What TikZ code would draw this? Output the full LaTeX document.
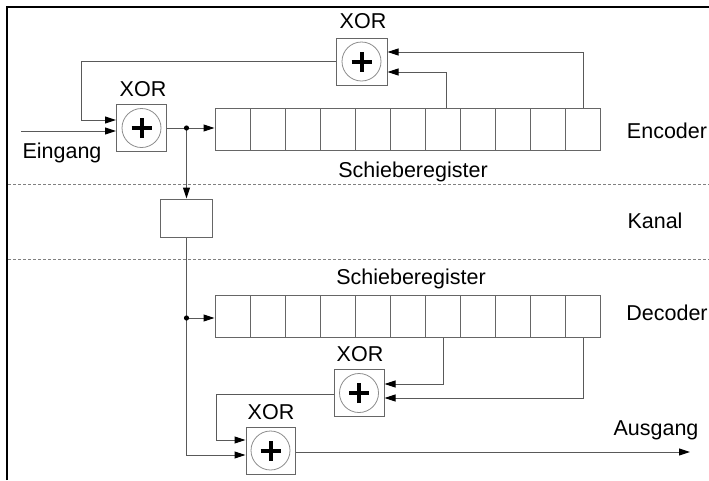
\documentclass[tikz,border=0pt]{standalone}
\usepackage{fontspec}
\setmainfont{Liberation Sans}
\usetikzlibrary{arrows.meta}
\definecolor{linegray}{gray}{0.35}
\definecolor{boxgray}{gray}{0.4}
\definecolor{circgray}{gray}{0.55}
\definecolor{dashgray}{gray}{0.5}
\begin{document}
\begin{tikzpicture}[x=1pt,y=-1pt,
  lbl/.style={font=\fontsize{21.5}{25}\selectfont, anchor=base, inner sep=0pt},
  wire/.style={draw=linegray, line width=1pt},
  arr/.style={wire, -{Triangle[length=11pt,width=7pt,color=black]}},
  cell/.style={draw=boxgray, line width=1pt, minimum width=35.09pt, minimum height=42pt, inner sep=0pt},
  chanbox/.style={draw=boxgray, line width=1pt, minimum width=52pt, minimum height=38pt, inner sep=0pt},
  xorbox/.style={draw=boxgray, line width=1pt, minimum width=50pt, minimum height=47pt, inner sep=0pt,
    path picture={
      \draw[circgray,line width=0.8pt] (path picture bounding box.center) circle (19.5pt);
      \draw[black,line width=4pt] ([xshift=-10pt]path picture bounding box.center) -- ([xshift=10pt]path picture bounding box.center);
      \draw[black,line width=4pt] ([yshift=-10pt]path picture bounding box.center) -- ([yshift=10pt]path picture bounding box.center);
    }},
  sep/.style={draw=dashgray, line width=0.8pt, dash pattern=on 3pt off 2pt},
  frame/.style={draw=black, line width=2pt},
  dot/.style={fill=black}
]
\useasboundingbox (0,0) rectangle (709,480);
% frame
\draw[frame] (7,480) -- (7,7) -- (709,7);
% separators
\draw[sep] (8,184) -- (709,184);
\draw[sep] (8,259) -- (709,259);

% encoder
\node[xorbox] (xe1) at (141.5,128) {};
\node[xorbox, minimum width=51pt] (xe2) at (361.5,61.5) {};
\foreach \i in {1,...,11} {
  \node[cell] (e\i) at ({215+(\i-0.5)*35.09},129) {};
}
% channel
\node[chanbox] (kanal) at (186.5,218) {};
% decoder
\foreach \i in {1,...,11} {
  \node[cell] (d\i) at ({215+(\i-0.5)*35.09},316) {};
}
\node[xorbox] (xd2) at (359,393) {};
\node[xorbox, minimum width=49pt] (xd1) at (270.5,450.5) {};

% labels
\node[lbl] (lxe1) at (143,96.7) {XOR};
\node[lbl] (lxe2) at (363,28) {XOR};
\node[lbl] (lxd2) at (360,361.7) {XOR};
\node[lbl] (lxd1) at (271,419) {XOR};
\node[lbl] (lein) at (62,158) {Eingang};
\node[lbl] (lenc) at (667,138) {Encoder};
\node[lbl] (lsre) at (413,177) {Schieberegister};
\node[lbl] (lkan) at (655,228) {Kanal};
\node[lbl] (lsrd) at (411,284.5) {Schieberegister};
\node[lbl] (ldec) at (667,320.7) {Decoder};
\node[lbl] (laus) at (656,435) {Ausgang};

% coordinates
\coordinate (ein) at (21,131);
\coordinate (fbe) at (81,120);
\coordinate (j1) at (186.5,128);
\coordinate (j2) at (186.5,318);
\coordinate (fbd) at (216,440);
\coordinate (aus) at (690,452);

% encoder wiring
\draw[arr] (ein) -- (ein -| xe1.west);
\draw[arr] (xe2.west) -| (fbe) -- (fbe -| xe1.west);
\draw[wire] (xe1.east) -- (j1);
\draw[arr] (j1) -- (j1 -| e1.west);
\draw[arr] ([xshift=3.5pt]e7.north) |- (xe2.east |- 0,72);
\draw[arr] (e11.north) |- (xe2.east |- 0,52);
\draw[arr] (j1) -- (kanal.north);
\fill[dot] (j1) circle (2.6pt);

% decoder wiring
\draw[arr] (kanal.south) |- (xd1.west |- 0,455);
\draw[arr] (j2) -- (j2 -| d1.west);
\fill[dot] (j2) circle (2.6pt);
\draw[arr] (d7.south) |- (xd2.east |- 0,384);
\draw[arr] (d11.south) |- (xd2.east |- 0,398);
\draw[arr] (xd2.west |- 0,394) -| (fbd) -- (fbd -| xd1.west);
\draw[arr] (xd1.east |- 0,452) -- (aus);
\end{tikzpicture}
\end{document}
